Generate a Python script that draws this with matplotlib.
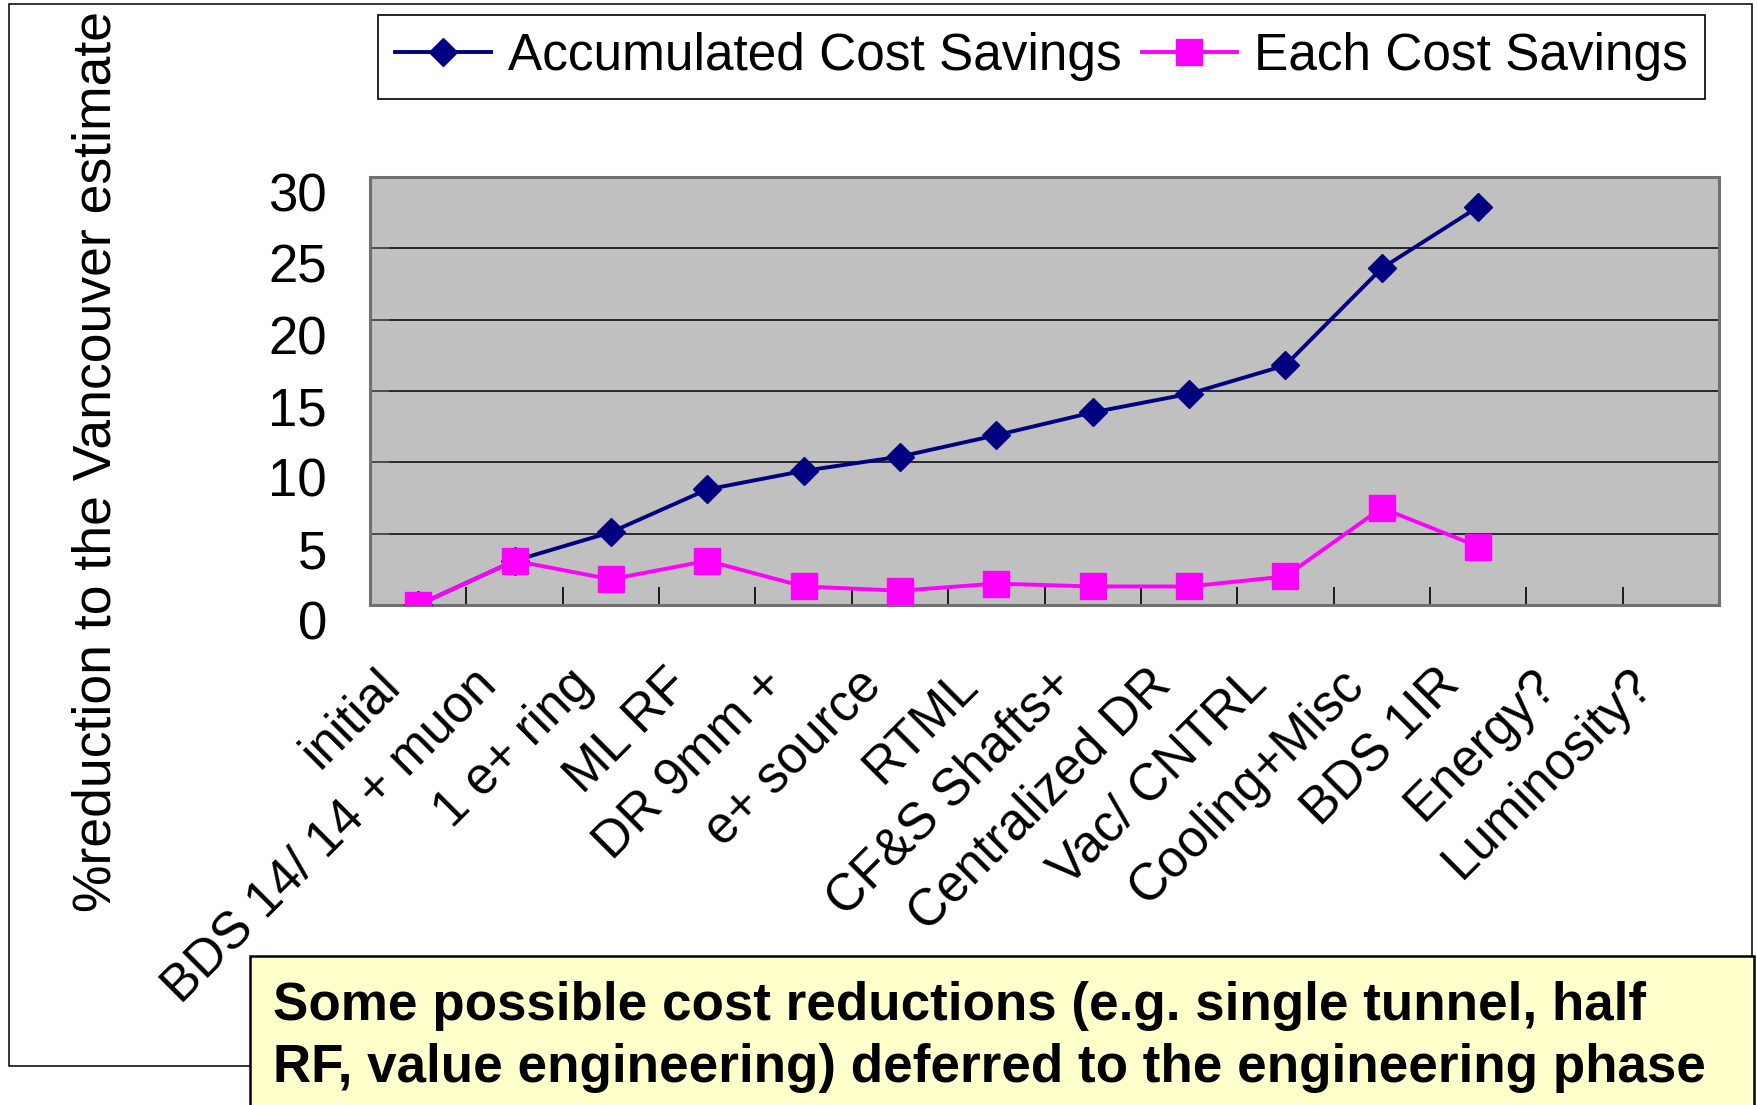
import numpy as np
import matplotlib
matplotlib.use("Agg")
import matplotlib.pyplot as plt
from matplotlib.patches import Rectangle
from matplotlib.lines import Line2D
from matplotlib.transforms import ScaledTranslation

plt.rcParams['font.family'] = ['Liberation Sans', 'DejaVu Sans']

# ---- data ----
categories = ["initial", "BDS 14/ 14 + muon", "1 e+ ring", "ML RF", "DR 9mm +",
              "e+ source", "RTML", "CF&S Shafts+", "Centralized DR", "Vac/ CNTRL",
              "Cooling+Misc", "BDS 1IR", "Energy?", "Luminosity?"]
accumulated = [0.0, 3.1, 5.1, 8.1, 9.4, 10.4, 11.9, 13.5, 14.8, 16.8, 23.6, 27.9,
               np.nan, np.nan]
each = [0.0, 3.1, 1.8, 3.1, 1.3, 1.0, 1.5, 1.3, 1.3, 2.0, 6.8, 4.1, np.nan, np.nan]
yticks = [0, 5, 10, 15, 20, 25, 30]
series_names = ["Accumulated Cost Savings", "Each Cost Savings"]
ylabel = "%reduction to the Vancouver estimate"
note_lines = ["Some possible cost reductions (e.g. single tunnel, half",
              "RF, value engineering) deferred to the engineering phase"]

W, H = 1757, 1105
fig = plt.figure(figsize=(W / 100, H / 100), dpi=100)
fig.patch.set_facecolor('white')

# outer chart frame
fig.add_artist(Rectangle((9 / W, 1 - 1066 / H), (1752 - 9) / W, (1066 - 4) / H,
                         transform=fig.transFigure, fill=False, ec='black',
                         lw=1.1, zorder=0))

ax = fig.add_axes([370 / W, 1 - 605 / H, (1719 - 370) / W, (605 - 177) / H])
ax.set_facecolor('#C0C0C0')

x = np.arange(len(categories))
ax.plot(x, accumulated, color='#000080', lw=2.8, marker='D', ms=14,
        mfc='#000080', mec='#000080', zorder=3)
ax.plot(x, each, color='#FF00FF', lw=2.8, marker='s', ms=19,
        mfc='#FF00FF', mec='#FF00FF', zorder=4)

ax.set_xlim(-0.5, len(categories) - 0.5)
ax.set_ylim(0, 30)
ax.set_yticks(yticks)
ax.set_yticklabels([str(v) for v in yticks], fontsize=38)
ax.yaxis.grid(True, color='black', lw=1.1)
ax.set_axisbelow(True)
ax.tick_params(axis='y', direction='in', length=14, width=1.2, color='#555555',
               pad=31)

ax.set_xticks(x)
ax.set_xticklabels(categories, fontsize=37, rotation=45, ha='right',
                   va='center', rotation_mode='anchor')
ax.tick_params(axis='x', which='major', length=0, pad=52)
ax.set_xticks(np.arange(0.5, len(categories) - 0.5, 1.0), minor=True)
ax.tick_params(axis='x', which='minor', direction='in', length=13, width=1.2,
               color='black')

for s in ax.spines.values():
    s.set_color('#707070')
    s.set_linewidth(2.2)

# y tick labels sit slightly below their gridlines
yshift = ScaledTranslation(0, -15 / 100, fig.dpi_scale_trans)
for t in ax.yaxis.get_major_ticks():
    t.label1.set_transform(t.label1.get_transform() + yshift)

# category labels end a little left of their category centre
xshift = ScaledTranslation(-26 / 100, 0, fig.dpi_scale_trans)
for t in ax.xaxis.get_major_ticks():
    t.label1.set_transform(t.label1.get_transform() + xshift)

fig.text(97 / W, 1 - 461 / H, ylabel, rotation=90, fontsize=38.5,
         ha='center', va='center')

handles = [Line2D([], [], color='#000080', lw=2.8, marker='D', ms=14),
           Line2D([], [], color='#FF00FF', lw=2.8, marker='s', ms=19)]
leg = fig.legend(handles, series_names, loc='upper left',
                 bbox_to_anchor=(378 / W, 1 - 15 / H), ncol=2, fontsize=37,
                 frameon=True, fancybox=False, edgecolor='black', framealpha=1,
                 borderpad=0.34, handlelength=1.85, handletextpad=0.33,
                 columnspacing=0.4, borderaxespad=0)
leg.get_frame().set_linewidth(1.2)

# note box
fig.add_artist(Rectangle((250 / W, -0.02), (1754 - 250) / W, (1105 - 956) / H + 0.02,
                         transform=fig.transFigure, fc='#FFFFCC', ec='black',
                         lw=1.8, zorder=10))
fig.text(273 / W, 1 - 1020 / H, note_lines[0], fontsize=38.2, weight='bold',
         va='baseline', ha='left', zorder=11)
fig.text(273 / W, 1 - 1082 / H, note_lines[1], fontsize=38.2, weight='bold',
         va='baseline', ha='left', zorder=11)

fig.savefig('out.png', dpi=100)
